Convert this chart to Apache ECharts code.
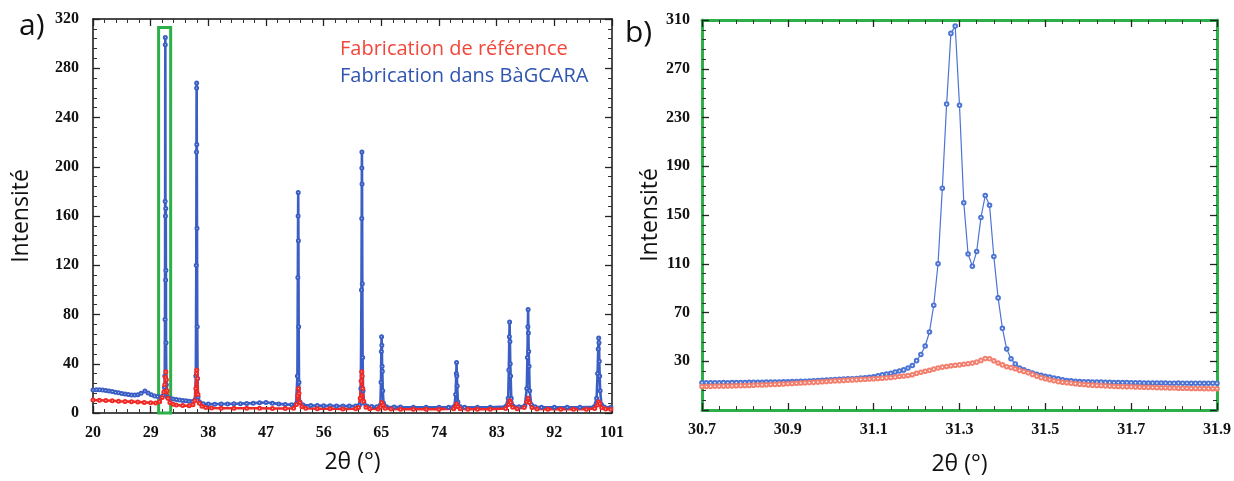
<!DOCTYPE html>
<html>
<head>
<meta charset="utf-8">
<script src="https://cdn.jsdelivr.net/npm/echarts@6/dist/echarts.min.js"></script>
<style>
    html, body { margin: 0; padding: 0; background: #fff; }
    #chartDiv { width: 1234px; height: 481px; }
</style>
</head>
<body>
<div id="chartDiv"></div>
<script>
// 初始化图表
var myChart = echarts.init(document.getElementById('chartDiv'));

// 图例名称
var nameRef = 'Fabrication de référence';
var nameBag = 'Fabrication dans BàGCARA';

// a) 全谱 [2θ, 强度]
var bagcaraFull = [
    [20, 18.7], [20.5, 18.9], [21, 18.8], [21.5, 18.6], [22, 18.3], [22.5, 17.9], [23, 17.4], [23.5, 16.9],
    [24, 16.4], [24.5, 15.9], [25, 15.4], [25.5, 15.0], [26, 14.7], [26.5, 14.6], [27, 14.8], [27.5, 16.0],
    [28.1, 17.8], [28.6, 16.2], [29.1, 14.8], [29.6, 13.9], [30.1, 13.3], [30.6, 13.0], [31.0, 14.5],
    [31.15, 21], [31.2, 30], [31.24, 76], [31.26, 172], [31.28, 299], [31.29, 305], [31.31, 160],
    [31.33, 108], [31.36, 166], [31.38, 116], [31.40, 57], [31.45, 23], [31.6, 13], [32.0, 12],
    [32.5, 11.4], [33, 11.0], [33.5, 10.6], [34, 10.2], [34.5, 9.9], [35, 9.6], [35.5, 9.4], [35.9, 10.5],
    [36.05, 30], [36.12, 120], [36.15, 212], [36.17, 264], [36.18, 268], [36.2, 218], [36.23, 150],
    [36.27, 70], [36.32, 28], [36.4, 13], [36.7, 8.6], [37.2, 7.5], [38, 7.3], [39, 7.2], [40, 7.3],
    [41, 7.4], [42, 7.5], [43, 7.6], [44, 7.8], [45, 8.0], [46, 8.3], [47, 8.5], [48, 8.0], [49, 7.4],
    [50, 7.0], [51, 6.7], [51.7, 7.5], [51.9, 30], [51.97, 110], [52.01, 160], [52.03, 179], [52.06, 140],
    [52.1, 70], [52.15, 25], [52.3, 9], [52.8, 6.4], [54, 6.1], [55, 6.0], [56, 5.9], [57, 5.8], [58, 5.7],
    [59, 5.6], [60, 5.6], [61, 5.6], [61.6, 6.5], [61.8, 20], [61.9, 100], [61.94, 158], [61.96, 199],
    [61.97, 212], [61.99, 186], [62.03, 105], [62.08, 45], [62.15, 18], [62.3, 8], [62.8, 5.4], [63.5, 5.2],
    [64.3, 5.1], [64.85, 6.5], [64.95, 25], [65.0, 50], [65.04, 62], [65.08, 55], [65.12, 38], [65.16, 34],
    [65.22, 18], [65.35, 8], [65.8, 5.0], [67, 4.9], [68, 4.8], [70, 4.7], [72, 4.7], [74, 4.6], [75.5, 4.7],
    [76.4, 5.5], [76.6, 15], [76.7, 32], [76.74, 41], [76.78, 30], [76.84, 22], [76.95, 9], [77.3, 5],
    [78, 4.7], [80, 4.6], [82, 4.7], [84.4, 5.2], [84.8, 12], [84.9, 35], [84.98, 62], [85.02, 74],
    [85.07, 58], [85.12, 40], [85.18, 30], [85.28, 12], [85.6, 5.5], [86.5, 5.0], [87.4, 5.8], [87.7, 20],
    [87.8, 45], [87.87, 70], [87.91, 84], [87.95, 65], [88.0, 50], [88.06, 38], [88.15, 18], [88.4, 7],
    [89, 5.0], [90, 4.7], [92, 4.6], [94, 4.6], [96, 4.6], [98.2, 5.0], [98.6, 12], [98.75, 32],
    [98.85, 52], [98.92, 61], [98.97, 57], [99.02, 42], [99.08, 30], [99.15, 18], [99.35, 7], [99.8, 4.8],
    [100.8, 4.6]
];
var refFull = [
    [20, 10.6], [21, 10.4], [22, 10.2], [23, 9.9], [24, 9.6], [25, 9.4], [26, 9.2], [27, 8.9], [28, 8.6],
    [29, 8.3], [29.8, 8.2], [30.4, 9.2], [30.8, 12.5], [31.05, 17], [31.2, 23], [31.3, 29], [31.37, 33.5],
    [31.45, 27], [31.55, 18], [31.7, 12], [32, 8.6], [32.5, 7.2], [33, 6.5], [34, 6.0], [35, 5.9],
    [35.6, 6.6], [35.9, 10], [36.05, 20], [36.15, 32], [36.2, 35], [36.27, 28], [36.38, 15], [36.6, 8],
    [37, 5.4], [37.6, 4.5], [38.5, 4.1], [40, 3.9], [42, 3.8], [44, 3.8], [46, 3.8], [48, 3.7], [50, 3.7],
    [51.3, 3.9], [51.75, 7], [51.95, 14], [52.07, 20], [52.15, 16], [52.3, 8.5], [52.6, 5], [53.2, 3.8],
    [55, 3.5], [57, 3.4], [59, 3.3], [61, 3.4], [61.45, 4.5], [61.7, 12], [61.85, 26], [61.93, 33.5],
    [62.0, 30], [62.1, 20], [62.25, 9.5], [62.6, 4.6], [63.2, 3.4], [64.5, 3.3], [64.85, 4.8], [65.05, 8.5],
    [65.25, 6.5], [65.6, 3.8], [66.5, 3.2], [68, 3.1], [70, 3.0], [72, 3.0], [74, 3.0], [76.3, 3.4],
    [76.6, 5.5], [76.75, 7.3], [76.95, 5.2], [77.3, 3.4], [78.5, 3.1], [80, 3.0], [82, 3.0], [84.4, 3.6],
    [84.85, 7], [85.02, 10], [85.18, 8.5], [85.5, 4.6], [86.2, 3.4], [87.3, 4.4], [87.7, 9], [87.9, 12],
    [88.1, 8.5], [88.5, 4.4], [89.3, 3.3], [91, 3.0], [93, 3.0], [95, 3.0], [97, 3.0], [98.3, 3.6],
    [98.7, 6.5], [98.92, 9.2], [99.1, 7.5], [99.4, 4.2], [100, 3.2], [100.8, 3.0]
];

// 绿框 (放大区域)
var zoomBox = [30.24, 32.12, 0, 313];

// b) 放大 30.7 - 31.9, 步长 0.01
var zoomStart = 30.7;
var zoomStep = 0.01;
var bagcaraZoom = [
    12.3, 12.3, 12.4, 12.3, 12.4, 12.5, 12.4, 12.5, 12.6, 12.5,
    12.6, 12.7, 12.7, 12.8, 12.8, 12.9, 12.9, 13.0, 13.0, 13.1,
    13.2, 13.3, 13.4, 13.5, 13.6, 13.8, 13.9, 14.1, 14.3, 14.5,
    14.7, 14.9, 15.1, 15.3, 15.5, 15.7, 15.9, 16.2, 16.5, 16.8,
    17.3, 18.0, 18.8, 19.5, 20.2, 21.2, 22.0, 22.9, 24.5, 26.5,
    30.5, 35.5, 42.5, 54, 76, 110, 172, 241, 299, 305,
    240, 160, 118, 108, 120, 148, 166, 158, 116, 82,
    57, 40, 32, 27.8, 24.5, 23, 21.5, 20.3, 19.3, 18.4,
    17.6, 17.0, 16.3, 15.5, 14.8, 14.2, 13.9, 13.6, 13.4, 13.2,
    13.1, 13.0, 12.9, 12.9, 12.8, 12.7, 12.6, 12.6, 12.5, 12.5,
    12.4, 12.3, 12.3, 12.2, 12.2, 12.1, 12.1, 12.2, 12.1, 12.0,
    12.0, 12.1, 12.0, 12.0, 11.9, 12.0, 12.0, 11.9, 12.0, 12.0,
    12.0
];
var refZoom = [
    9.3, 9.3, 9.4, 9.5, 9.6, 9.6, 9.7, 9.8, 9.9, 10.0,
    10.1, 10.2, 10.3, 10.5, 10.6, 10.7, 10.9, 11.0, 11.2, 11.3,
    11.5, 11.7, 11.9, 12.1, 12.3, 12.5, 12.7, 12.9, 13.2, 13.4,
    13.7, 13.9, 14.1, 14.3, 14.5, 14.7, 14.9, 15.1, 15.2, 15.4,
    15.6, 15.8, 16.1, 16.4, 16.7, 17.0, 17.5, 17.9, 18.3, 18.9,
    20.2, 21.0, 21.8, 22.6, 23.5, 24.5, 25.2, 25.7, 26.3, 26.7,
    27.0, 27.5, 28.0, 28.5, 29.3, 30.7, 32.2, 32.0, 30.4, 28.6,
    27.0, 25.5, 24.8, 23.8, 22.5, 21.6, 20.5, 19.2, 17.8, 16.6,
    15.6, 14.8, 14.0, 13.3, 12.8, 12.4, 12.0, 11.6, 11.2, 10.9,
    10.6, 10.4, 10.2, 10.0, 9.8, 9.6, 9.4, 9.3, 9.2, 9.1,
    9.0, 8.9, 8.8, 8.7, 8.6, 8.5, 8.4, 8.3, 8.2, 8.1,
    8.0, 7.9, 7.9, 7.8, 7.7, 7.7, 7.6, 7.5, 7.5, 7.4,
    7.4
];

// 颜色
var blueA = '#3a5ec4';
var redA = '#f02a26';
var blueB = '#4c74d4';
var redB = '#f3806f';
var green = '#2bb04a';

function zoomPairs(values) {
    return values.map(function (v, i) {
        return [+(zoomStart + i * zoomStep).toFixed(2), v];
    });
}

function $extend(a, b) {
    for (var k in b) { a[k] = b[k]; }
    return a;
}

// 坐标轴通用设置
var tickFont = {
    fontFamily: 'Liberation Serif',
    fontWeight: 'bold',
    fontSize: 16,
    color: '#111'
};
function makeAxis(extra, lineColor, lineWidth, showLabel, margin) {
    return $extend({
        axisLine: {show: true, onZero: false, lineStyle: {color: lineColor, width: lineWidth}},
        axisTick: {show: true, inside: true, length: 7, lineStyle: {color: '#222', width: 1.3}},
        minorTick: {show: true, splitNumber: 5, length: 4, lineStyle: {color: '#333', width: 1}},
        splitLine: {show: false},
        axisLabel: $extend({show: showLabel, margin: margin}, tickFont)
    }, extra);
}

var nameFont = {fontFamily: 'Open Sans', fontSize: 23, color: '#111'};

var xAxes = [
    makeAxis({type: 'value', gridIndex: 0, min: 20, max: 101, interval: 9, position: 'bottom',
        name: '2θ (°)', nameLocation: 'middle', nameGap: 38, nameTextStyle: nameFont}, '#111', 1.5, true, 12),
    makeAxis({type: 'value', gridIndex: 0, min: 20, max: 101, interval: 9, position: 'top'}, '#111', 1.5, false, 8),
    makeAxis({type: 'value', gridIndex: 1, min: 30.7, max: 31.9, interval: 0.2, position: 'bottom',
        name: '2θ (°)', nameLocation: 'middle', nameGap: 43, nameTextStyle: nameFont}, green, 3, true, 12),
    makeAxis({type: 'value', gridIndex: 1, min: 30.7, max: 31.9, interval: 0.2, position: 'top'}, green, 3, false, 8)
];
var yAxes = [
    makeAxis({type: 'value', gridIndex: 0, min: 0, max: 320, interval: 40, position: 'left',
        name: 'Intensité', nameLocation: 'middle', nameGap: 60, nameTextStyle: nameFont}, '#111', 1.5, true, 14),
    makeAxis({type: 'value', gridIndex: 0, min: 0, max: 320, interval: 40, position: 'right'}, '#111', 1.5, false, 8),
    makeAxis({type: 'value', gridIndex: 1, min: -10, max: 310, interval: 40, position: 'left',
        name: 'Intensité', nameLocation: 'middle', nameGap: 39, nameTextStyle: nameFont}, green, 3, true, 12),
    makeAxis({type: 'value', gridIndex: 1, min: -10, max: 310, interval: 40, position: 'right'}, green, 3, false, 8)
];
yAxes[2].axisLabel.showMinLabel = false;

// 系列
function lineSeries(name, data, xi, yi, color, size, width) {
    return {
        name: name,
        type: 'line',
        xAxisIndex: xi,
        yAxisIndex: yi,
        data: data,
        symbol: 'emptyCircle',
        symbolSize: size,
        showAllSymbol: true,
        color: color,
        itemStyle: {color: color, borderColor: color, borderWidth: 1},
        lineStyle: {color: color, width: width},
        animation: false,
        silent: true
    };
}

var series = [
    lineSeries(nameBag, bagcaraFull, 0, 0, blueA, 3, 2.6),
    lineSeries(nameRef, refFull, 0, 0, redA, 3, 2.6),
    lineSeries(nameBag, zoomPairs(bagcaraZoom), 2, 2, blueB, 3.6, 1.2),
    lineSeries(nameRef, zoomPairs(refZoom), 2, 2, redB, 3.6, 1.2)
];
series[1].markArea = {
    silent: true,
    itemStyle: {color: 'rgba(0,0,0,0)', borderColor: green, borderWidth: 3},
    data: [[{xAxis: zoomBox[0], yAxis: zoomBox[2]}, {xAxis: zoomBox[1], yAxis: zoomBox[3]}]]
};

// 图表设置
var option = {
    backgroundColor: '#fff',
    animation: false,
    title: [
        {text: 'a)', left: 14, top: 6, textStyle: {fontFamily: 'Open Sans', fontSize: 30, fontWeight: 'normal', color: '#111'}},
        {text: 'b)', left: 620, top: 13, textStyle: {fontFamily: 'Open Sans', fontSize: 30, fontWeight: 'normal', color: '#111'}}
    ],
    legend: {
        orient: 'vertical',
        left: 305,
        top: 34,
        itemGap: 7,
        icon: 'none',
        selectedMode: false,
        textStyle: {fontFamily: 'Open Sans', fontSize: 20},
        data: [
            {name: nameRef, textStyle: {color: '#f2473a'}},
            {name: nameBag, textStyle: {color: '#2f55b0'}}
        ]
    },
    grid: [
        {left: 93, top: 19, width: 519, height: 394},
        {left: 702, top: 20, width: 520, height: 393}
    ],
    xAxis: xAxes,
    yAxis: yAxes,
    series: series
};
myChart.setOption(option);
</script>
</body>
</html>
